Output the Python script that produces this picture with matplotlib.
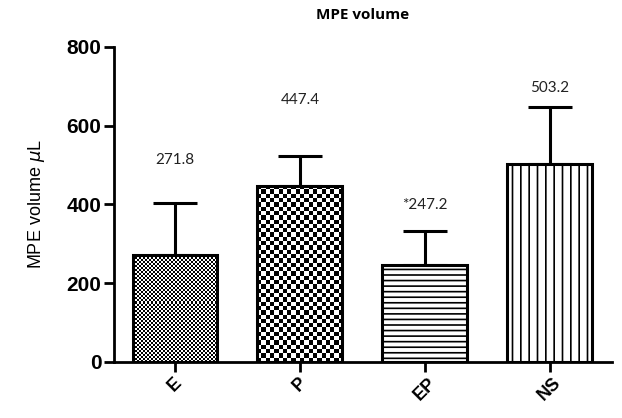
import numpy as np
import matplotlib.pyplot as plt

groups = ['E', 'P', 'EP', 'NS']
means = [271.8, 447.4, 247.2, 503.2]
sds = [133, 75, 85, 145]
value_labels = ['271.8', '447.4', '*247.2', '503.2']
label_y = [513, 665, 398, 695]
# pattern for each bar: checker square size in pixels, or a hatch string
checker_px = [2, 4.3, None, None]
hatches = [None, None, '---', '||']

plt.rcParams['font.family'] = ['Liberation Sans', 'DejaVu Sans']
plt.rcParams['hatch.linewidth'] = 1.2

fig = plt.figure(figsize=(6.22, 4.18), dpi=100)
ax = fig.add_axes([0.183, 0.134, 0.801, 0.754])

ax.set_xlim(-0.49, 3.5)
ax.set_ylim(0, 800)

x = np.arange(len(groups))
bars = ax.bar(x, means, width=0.68, color='none', edgecolor='black',
              linewidth=2.2, zorder=3)

# checkerboard fills drawn as images clipped to the bars
inv = ax.transData.inverted()
for b, sq, h in zip(bars, checker_px, hatches):
    if h:
        b.set_hatch(h)
        b.set_facecolor('white')
    if sq is None:
        continue
    ext = b.get_window_extent()
    nx = int(np.ceil(ext.width / sq)) + 1
    ny = int(np.ceil(ext.height / sq)) + 1
    grid = (np.add.outer(np.arange(ny), np.arange(nx)) % 2).astype(float)
    x0, y0 = inv.transform((ext.x0, ext.y0))
    x1, y1 = inv.transform((ext.x0 + nx * sq, ext.y0 + ny * sq))
    im = ax.imshow(grid, cmap='gray', vmin=0, vmax=1, origin='lower',
                   extent=(x0, x1, y0, y1), interpolation='nearest',
                   aspect='auto', zorder=2.5)
    im.set_clip_path(b)

ax.set_xlim(-0.49, 3.5)
ax.set_ylim(0, 800)

ax.errorbar(x, means, yerr=[[0] * 4, sds], fmt='none', ecolor='black',
            elinewidth=2.2, capsize=16, capthick=2.2, zorder=2)

for i in x:
    ax.text(i, label_y[i], value_labels[i], ha='center', va='center',
            fontsize=11, color='#222222', family=['Lato', 'DejaVu Sans'])

ax.set_yticks([0, 200, 400, 600, 800])
ax.set_xticks(x)
ax.set_xticklabels(groups, rotation=45, ha='center', fontweight='bold',
                   fontsize=13)
for lab in ax.get_yticklabels():
    lab.set_fontweight('bold')
    lab.set_fontsize(15)

ax.spines['top'].set_visible(False)
ax.spines['right'].set_visible(False)
ax.spines['left'].set_linewidth(2)
ax.spines['bottom'].set_linewidth(2)
ax.tick_params(width=2, length=7, pad=2)

ax.set_ylabel('MPE volume $\\mu$L', fontsize=13, labelpad=14)
ax.set_title('MPE volume', fontsize=11, fontweight='bold', pad=20,
             family=['Open Sans', 'DejaVu Sans'])

fig.savefig('out.png', dpi=100)
